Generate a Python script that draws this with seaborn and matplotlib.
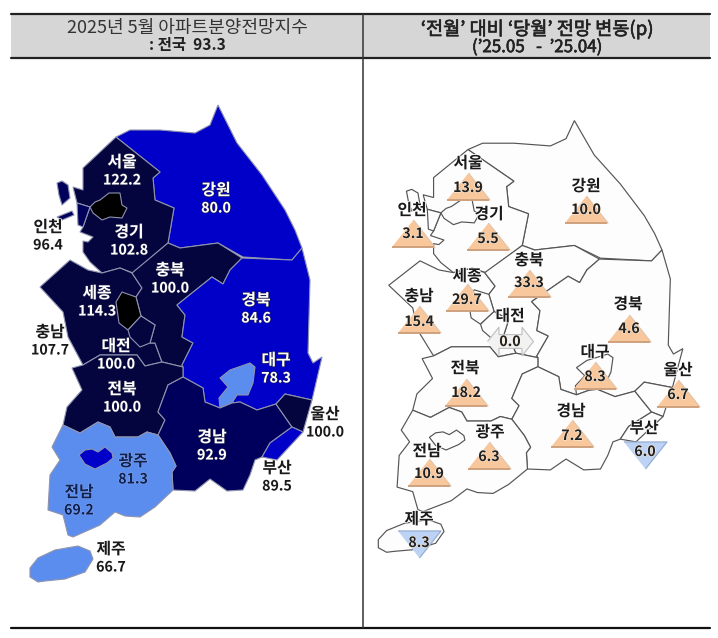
import matplotlib
matplotlib.use("Agg")
import matplotlib.pyplot as plt
import matplotlib.patheffects as pe
from matplotlib.patches import Polygon, Rectangle
from matplotlib.transforms import Affine2D
import pandas as pd
import seaborn as sns

sns.set_theme(style="white")
plt.rcParams['font.family'] = ['Noto Sans CJK KR', 'DejaVu Sans']

# ---- data ----
regions = ['서울', '인천', '경기', '강원', '충북', '세종', '충남', '대전', '경북',
           '대구', '전북', '울산', '경남', '부산', '광주', '전남', '제주']
index_values = [122.2, 96.4, 102.8, 80.0, 100.0, 114.3, 107.7, 100.0, 84.6,
                78.3, 100.0, 100.0, 92.9, 89.5, 81.3, 69.2, 66.7]
change_values = [13.9, 3.1, 5.5, 10.0, 33.3, 29.7, 15.4, 0.0, 4.6,
                 8.3, 18.2, 6.7, 7.2, -6.0, 6.3, 10.9, -8.3]
national_index = 93.3
left_title = '2025년 5월 아파트분양전망지수'
right_title = "‘전월’ 대비 ‘당월’ 전망 변동(p)"
right_sub = "(’25.05   -  ’25.04)"

# ---- layout (pixel space of the picture) ----
outlines = {
 '강원': [[(116,137),(130,130),(160,130),(195,133),(210,125),(218,105),(237,143),(262,175),(285,210),(295,230),(302,248),(292,260),(243,257),(218,243),(180,248),(168,243),(174,208),(155,200),(153,178),(160,172)]],
 '경기': [[(116,137),(160,172),(153,178),(155,200),(174,208),(168,243),(133,273),(120,268),(102,273),(90,262),(83,252),(83,241),(88,242),(93,237),(80,232),(83,227),(90,207),(77,203),(73,187),(83,190),(83,168)]],
 '인천': [[(77,203),(90,207),(83,227),(78,225)],
          [(57,183),(62,181),(68,185),(70,198),(62,205),(59,195)],
          [(57,217),(72,211),(74,215),(62,220)]],
 '서울': [[(90,207),(95,202),(100,200),(109,193),(120,193),(122,205),(127,208),(122,218),(110,217),(102,220),(93,213)]],
 '충남': [[(70,260),(88,270),(102,273),(120,268),(132,273),(142,288),(136,297),(141,316),(155,325),(150,343),(155,343),(162,362),(145,366),(137,355),(100,355),(83,365),(68,337),(63,312),(40,287)]],
 '세종': [[(122,292),(136,297),(141,316),(128,330),(119,323),(116,302)]],
 '대전': [[(141,316),(155,325),(150,343),(140,347),(130,337),(128,330)]],
 '충북': [[(168,243),(180,248),(218,243),(242,258),(230,270),(223,284),(212,277),(177,305),(185,315),(182,337),(193,343),(182,365),(183,367),(162,362),(155,343),(150,343),(155,325),(141,316),(136,297),(142,288),(132,273)]],
 '경북': [[(302,248),(310,280),(308,353),(313,363),(322,357),(312,400),(285,394),(276,404),(257,410),(240,402),(232,403),(220,408),(205,402),(203,388),(183,377),(183,367),(182,365),(193,343),(182,337),(185,315),(177,305),(212,277),(223,284),(230,270),(242,258),(292,260)]],
 '대구': [[(220,378),(230,370),(250,363),(255,367),(253,383),(248,395),(237,395),(232,403),(220,408),(219,398),(228,387)]],
 '전북': [[(72,368),(83,365),(100,355),(137,355),(145,366),(162,362),(183,367),(183,377),(168,385),(158,412),(165,420),(158,435),(147,432),(138,437),(115,437),(110,427),(98,422),(80,433),(63,425),(67,407),(82,390)]],
 '경남': [[(183,377),(203,388),(205,402),(220,408),(232,403),(240,402),(257,410),(276,404),(292,427),(270,443),(262,457),(255,460),(250,475),(243,490),(227,491),(210,479),(195,491),(173,490),(172,472),(176,466),(170,453),(158,435),(165,420),(158,412),(168,385)]],
 '울산': [[(276,404),(285,394),(312,400),(303,432),(292,427)]],
 '부산': [[(292,427),(303,432),(277,460),(262,457),(270,443)]],
 '전남': [[(63,425),(80,433),(98,422),(110,427),(115,437),(138,437),(147,432),(158,435),(170,453),(176,466),(172,472),(173,490),(155,507),(140,517),(125,516),(115,512),(100,525),(73,537),(68,535),(63,515),(48,510),(50,475),(60,460),(52,447)]],
 '광주': [[(79,455),(85,450),(92,449),(98,452),(105,447),(112,453),(113,458),(107,463),(95,469),(85,464)]],
 '제주': [[(30,568),(38,558),(55,550),(78,546),(90,551),(93,559),(85,572),(65,579),(45,581),(38,582),(30,577)]],
}
draw_order = ['강원','경기','인천','서울','충남','충북','세종','대전','경북','대구','전북','경남','울산','부산','전남','광주','제주']

left_name_xy = {'서울':(122,162),'인천':(48,227),'경기':(129,232),'강원':(216,190),'충북':(170,270),'세종':(97,293),
                '충남':(50,332),'대전':(116,346),'경북':(256,300),'대구':(276,360),'전북':(122,389),'울산':(325,414),
                '경남':(212,437),'부산':(277,468),'광주':(133,461),'전남':(79,492),'제주':(111,549)}
value_dy = 18.5
outside_dark = ['인천','충남','울산','부산','제주']
navy_text = ['광주','전남']

right_name_xy = {'서울':(468,163),'인천':(412,210),'경기':(489,214),'강원':(586,186),'충북':(529,260),'세종':(467,276),
                 '충남':(419,296),'대전':(510,316),'경북':(628,304),'대구':(595,352),'전북':(465,368),'울산':(678,370),
                 '경남':(571,411),'부산':(644,428),'광주':(490,432),'전남':(427,451),'제주':(419,519)}
marker_xy = {'서울':(468,186),'인천':(413,233),'경기':(488,236),'강원':(586,209),'충북':(529,283),'세종':(467,297),
             '충남':(419,319),'대전':(510,341),'경북':(629,328),'대구':(595,375),'전북':(466,392),'울산':(678,393),
             '경남':(572,433),'부산':(645,455),'광주':(489,455),'전남':(429,472),'제주':(419,544)}
text_y = {'서울':188,'인천':234,'경기':239,'강원':210,'충북':283,'세종':300,'충남':322,'대전':342,'경북':329,'대구':377,
          '전북':393,'울산':395,'경남':436,'부산':452,'광주':457,'전남':474,'제주':543}


def index_colour(v):
    if v >= 110: return '#000000'
    if v >= 100: return '#04043F'
    if v >= 90: return '#00005C'
    if v >= 80: return '#0000C8'
    return '#5B8DEF'


fig = plt.figure(figsize=(7.18, 6.38), dpi=100, facecolor='white')
ax = fig.add_axes([0, 0, 1, 1])
ax.set_xlim(0, 718)
ax.set_ylim(638, 0)
ax.axis('off')

# header and frame
ax.add_patch(Rectangle((11, 14), 699, 44, fc='#D6D6D6', ec='none', zorder=0))
ax.plot([11, 710], [14, 14], color='#222222', lw=1.6, zorder=1)
ax.plot([11, 710], [58, 58], color='#222222', lw=1.6, zorder=1)
ax.plot([11, 710], [628, 628], color='#111111', lw=1.6, zorder=1)
ax.plot([363, 363], [14, 628], color='#333333', lw=1.1, zorder=1)

semi = [pe.withStroke(linewidth=0.45, foreground='#222222')]
ax.text(187, 28, left_title, ha='center', va='center', fontsize=13, color='#333333')
ax.text(187, 45, f': 전국  {national_index}', ha='center', va='center', fontsize=11.2, color='#222222', fontweight='bold')
ax.text(537, 29, right_title, ha='center', va='center', fontsize=13.4, color='#222222', path_effects=semi)
ax.text(537, 47, right_sub, ha='center', va='center', fontsize=12.2, color='#222222', path_effects=semi)

# left map
val = dict(zip(regions, index_values))
chg = dict(zip(regions, change_values))
for r in draw_order:
    for part in outlines[r]:
        ax.add_patch(Polygon(part, closed=True, fc=index_colour(val[r]), ec='#8E93AE', lw=0.8, zorder=2))

# right map: the same outlines squeezed into the right-hand panel
to_right = Affine2D().translate(-302, -248).scale(1.043, 0.905).translate(662, 250) + ax.transData
for r in draw_order:
    for part in outlines[r]:
        if part[0] == (57, 217):
            continue
        ax.add_patch(Polygon(part, closed=True, fc='#FDFDFD', ec='#555555', lw=0.85, zorder=2, transform=to_right))

# left labels
for r in regions:
    x, y = left_name_xy[r]
    if r in outside_dark:
        c, halo = '#1A1A1A', 'white'
    elif r in navy_text:
        c, halo = '#10204F', '#7FA6F0'
    else:
        c, halo = 'white', '#22224A'
    fx = [pe.withStroke(linewidth=0.8, foreground=halo)]
    ax.text(x, y, r, ha='center', va='center', fontsize=11.4, fontweight='bold', color=c, path_effects=fx, zorder=5)
    ax.text(x, y + value_dy, f'{val[r]:.1f}', ha='center', va='center', fontsize=10.2, fontweight='bold', color=c, path_effects=fx, zorder=5)

# right markers, through seaborn
df = pd.DataFrame({'region': regions, 'change': change_values})
df['x'] = [marker_xy[r][0] for r in regions]
df['y'] = [marker_xy[r][1] for r in regions]
up_marker = [(-1, -0.63), (1, -0.63), (0, 0.63)]
down_marker = [(-1, 0.63), (1, 0.63), (0, -0.63)]
flat_marker = [(-1, 0), (-0.5, 0.62), (-0.5, 0.3), (0.5, 0.3), (0.5, 0.62), (1, 0),
               (0.5, -0.62), (0.5, -0.3), (-0.5, -0.3), (-0.5, -0.62)]
size = (43 * 0.72) ** 2
groups = [(df[df.change > 0], up_marker, '#F8C79C', '#E0C4AC', size),
          (df[df.change < 0], down_marker, '#BCD3F5', '#8FA9CF', size),
          (df[df.change == 0], flat_marker, '#F2F2F2', '#BEBEBE', (46 * 0.72) ** 2)]
for sub, mk, fc, ec, s in groups:
    sns.scatterplot(data=sub, x='x', y='y', marker=mk, s=s, color=fc, edgecolor=ec, linewidth=0.8,
                    legend=False, ax=ax, zorder=3)
ax.set_xlim(0, 718)
ax.set_ylim(638, 0)
ax.axis('off')
for r in regions:
    if chg[r] > 0:
        mx, my = marker_xy[r]
        ax.plot([mx - 21, mx + 21], [my + 13.5, my + 13.5], color='#CFA27E', lw=1.4, zorder=3.5, solid_capstyle='butt')

white_fx = [pe.withStroke(linewidth=1.2, foreground='white')]
for r in regions:
    x, y = right_name_xy[r]
    ax.text(x, y, r, ha='center', va='center', fontsize=11.4, fontweight='bold', color='#1A1A1A', path_effects=white_fx, zorder=5)
    ax.text(marker_xy[r][0], text_y[r], f'{abs(chg[r]):.1f}', ha='center', va='center', fontsize=10.2,
            fontweight='bold', color='#222222', path_effects=[pe.withStroke(linewidth=0.8, foreground='#FFF0E0')], zorder=5)

fig.savefig('out.png', dpi=100, facecolor='white')
